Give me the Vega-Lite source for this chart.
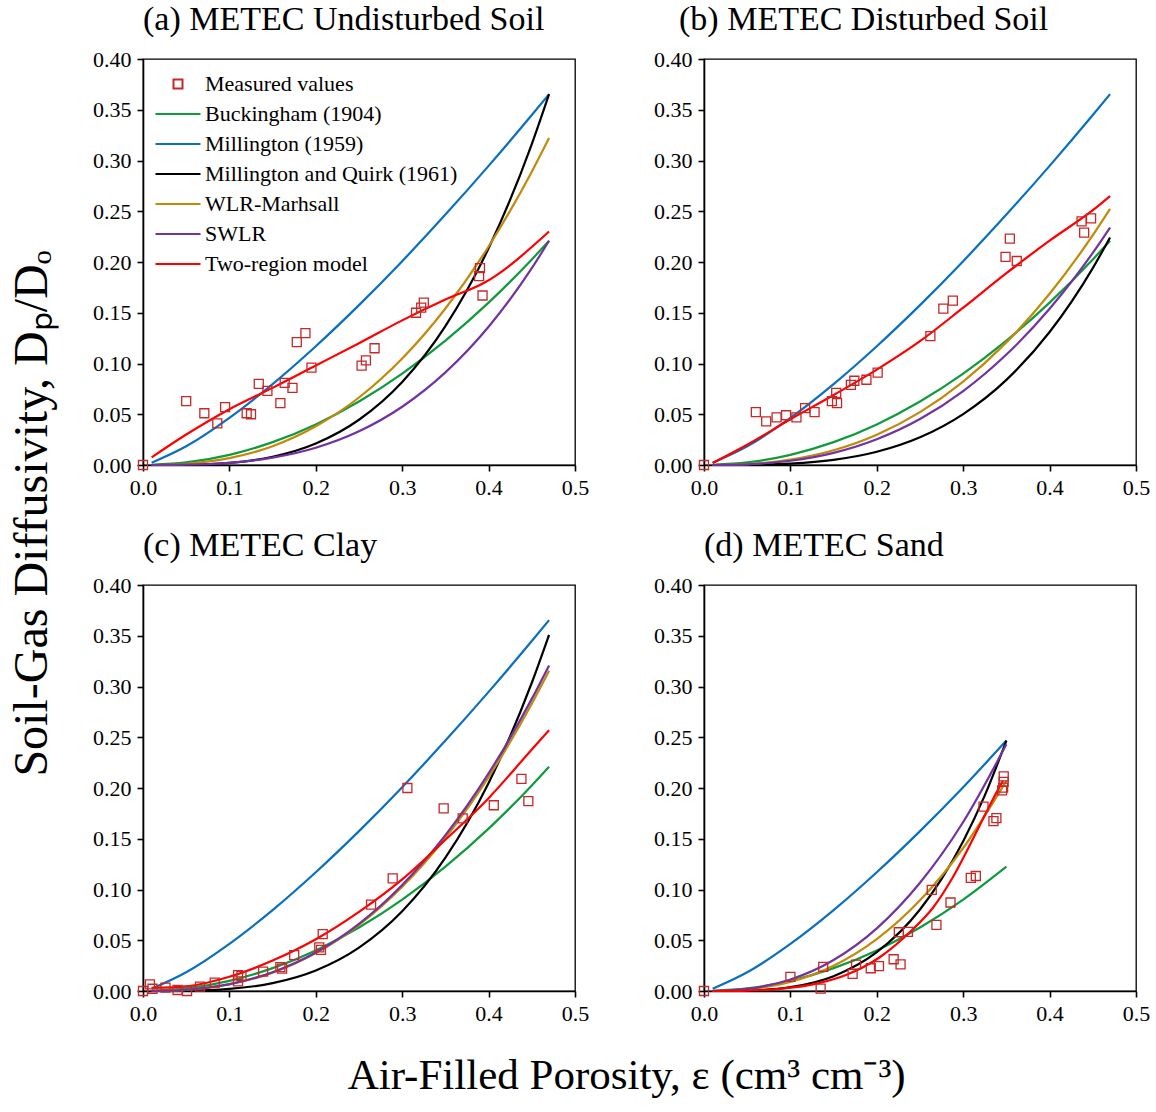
{
  "$schema": "https://vega.github.io/schema/vega-lite/v6.json",
  "background": "white",
  "padding": {"left": 8, "top": 2, "right": 5, "bottom": 5},
  "config": {
    "font": "Liberation Serif",
    "view": {"stroke": "black", "strokeWidth": 1.3},
    "axis": {
      "grid": false,
      "domainColor": "black",
      "domainWidth": 1.6,
      "tickColor": "black",
      "tickWidth": 1.6,
      "tickSize": 6,
      "labelFont": "Liberation Serif",
      "labelFontSize": 22,
      "labelColor": "black",
      "labelPadding": 6,
      "labelFlush": false,
      "labelOverlap": false
    },
    "title": {"font": "Liberation Serif", "fontWeight": "normal", "color": "black"}
  },
  "datasets": {
    "soil": [
      {"panel": "a", "series": "Buckingham (1904)", "eps": 0.01, "dp": 0.0001},
      {"panel": "a", "series": "Buckingham (1904)", "eps": 0.05, "dp": 0.0025},
      {"panel": "a", "series": "Buckingham (1904)", "eps": 0.1, "dp": 0.01},
      {"panel": "a", "series": "Buckingham (1904)", "eps": 0.15, "dp": 0.0225},
      {"panel": "a", "series": "Buckingham (1904)", "eps": 0.2, "dp": 0.04},
      {"panel": "a", "series": "Buckingham (1904)", "eps": 0.25, "dp": 0.0625},
      {"panel": "a", "series": "Buckingham (1904)", "eps": 0.3, "dp": 0.09},
      {"panel": "a", "series": "Buckingham (1904)", "eps": 0.35, "dp": 0.1225},
      {"panel": "a", "series": "Buckingham (1904)", "eps": 0.4, "dp": 0.16},
      {"panel": "a", "series": "Buckingham (1904)", "eps": 0.45, "dp": 0.2025},
      {"panel": "a", "series": "Buckingham (1904)", "eps": 0.47, "dp": 0.2209},
      {"panel": "a", "series": "Millington (1959)", "eps": 0.01, "dp": 0.0022},
      {"panel": "a", "series": "Millington (1959)", "eps": 0.05, "dp": 0.0184},
      {"panel": "a", "series": "Millington (1959)", "eps": 0.1, "dp": 0.0464},
      {"panel": "a", "series": "Millington (1959)", "eps": 0.15, "dp": 0.0797},
      {"panel": "a", "series": "Millington (1959)", "eps": 0.2, "dp": 0.117},
      {"panel": "a", "series": "Millington (1959)", "eps": 0.25, "dp": 0.1575},
      {"panel": "a", "series": "Millington (1959)", "eps": 0.3, "dp": 0.2008},
      {"panel": "a", "series": "Millington (1959)", "eps": 0.35, "dp": 0.2467},
      {"panel": "a", "series": "Millington (1959)", "eps": 0.4, "dp": 0.2947},
      {"panel": "a", "series": "Millington (1959)", "eps": 0.45, "dp": 0.3448},
      {"panel": "a", "series": "Millington (1959)", "eps": 0.47, "dp": 0.3654},
      {"panel": "a", "series": "Millington and Quirk (1961)", "eps": 0.01, "dp": 0},
      {"panel": "a", "series": "Millington and Quirk (1961)", "eps": 0.05, "dp": 0.0002},
      {"panel": "a", "series": "Millington and Quirk (1961)", "eps": 0.1, "dp": 0.0021},
      {"panel": "a", "series": "Millington and Quirk (1961)", "eps": 0.15, "dp": 0.0081},
      {"panel": "a", "series": "Millington and Quirk (1961)", "eps": 0.2, "dp": 0.0212},
      {"panel": "a", "series": "Millington and Quirk (1961)", "eps": 0.25, "dp": 0.0446},
      {"panel": "a", "series": "Millington and Quirk (1961)", "eps": 0.3, "dp": 0.0818},
      {"panel": "a", "series": "Millington and Quirk (1961)", "eps": 0.35, "dp": 0.1368},
      {"panel": "a", "series": "Millington and Quirk (1961)", "eps": 0.4, "dp": 0.2135},
      {"panel": "a", "series": "Millington and Quirk (1961)", "eps": 0.45, "dp": 0.3162},
      {"panel": "a", "series": "Millington and Quirk (1961)", "eps": 0.47, "dp": 0.3654},
      {"panel": "a", "series": "WLR-Marhsall", "eps": 0.01, "dp": 0},
      {"panel": "a", "series": "WLR-Marhsall", "eps": 0.05, "dp": 0.0012},
      {"panel": "a", "series": "WLR-Marhsall", "eps": 0.1, "dp": 0.0067},
      {"panel": "a", "series": "WLR-Marhsall", "eps": 0.15, "dp": 0.0185},
      {"panel": "a", "series": "WLR-Marhsall", "eps": 0.2, "dp": 0.0381},
      {"panel": "a", "series": "WLR-Marhsall", "eps": 0.25, "dp": 0.0665},
      {"panel": "a", "series": "WLR-Marhsall", "eps": 0.3, "dp": 0.1049},
      {"panel": "a", "series": "WLR-Marhsall", "eps": 0.35, "dp": 0.1542},
      {"panel": "a", "series": "WLR-Marhsall", "eps": 0.4, "dp": 0.2153},
      {"panel": "a", "series": "WLR-Marhsall", "eps": 0.45, "dp": 0.289},
      {"panel": "a", "series": "WLR-Marhsall", "eps": 0.47, "dp": 0.3222},
      {"panel": "a", "series": "SWLR", "eps": 0.01, "dp": 0},
      {"panel": "a", "series": "SWLR", "eps": 0.05, "dp": 0.0003},
      {"panel": "a", "series": "SWLR", "eps": 0.1, "dp": 0.0021},
      {"panel": "a", "series": "SWLR", "eps": 0.15, "dp": 0.0072},
      {"panel": "a", "series": "SWLR", "eps": 0.2, "dp": 0.017},
      {"panel": "a", "series": "SWLR", "eps": 0.25, "dp": 0.0332},
      {"panel": "a", "series": "SWLR", "eps": 0.3, "dp": 0.0574},
      {"panel": "a", "series": "SWLR", "eps": 0.35, "dp": 0.0912},
      {"panel": "a", "series": "SWLR", "eps": 0.4, "dp": 0.1362},
      {"panel": "a", "series": "SWLR", "eps": 0.45, "dp": 0.1939},
      {"panel": "a", "series": "SWLR", "eps": 0.47, "dp": 0.2209},
      {"panel": "a", "series": "Two-region model", "eps": 0.01, "dp": 0.0075},
      {"panel": "a", "series": "Two-region model", "eps": 0.05, "dp": 0.03},
      {"panel": "a", "series": "Two-region model", "eps": 0.1, "dp": 0.055},
      {"panel": "a", "series": "Two-region model", "eps": 0.15, "dp": 0.076},
      {"panel": "a", "series": "Two-region model", "eps": 0.2, "dp": 0.098},
      {"panel": "a", "series": "Two-region model", "eps": 0.25, "dp": 0.12},
      {"panel": "a", "series": "Two-region model", "eps": 0.3, "dp": 0.1425},
      {"panel": "a", "series": "Two-region model", "eps": 0.35, "dp": 0.163},
      {"panel": "a", "series": "Two-region model", "eps": 0.396, "dp": 0.18},
      {"panel": "a", "series": "Two-region model", "eps": 0.47, "dp": 0.23},
      {"panel": "a", "series": "Measured values", "eps": 0, "dp": 0},
      {"panel": "a", "series": "Measured values", "eps": 0.05, "dp": 0.063},
      {"panel": "a", "series": "Measured values", "eps": 0.071, "dp": 0.051},
      {"panel": "a", "series": "Measured values", "eps": 0.086, "dp": 0.041},
      {"panel": "a", "series": "Measured values", "eps": 0.095, "dp": 0.057},
      {"panel": "a", "series": "Measured values", "eps": 0.12, "dp": 0.051},
      {"panel": "a", "series": "Measured values", "eps": 0.125, "dp": 0.05},
      {"panel": "a", "series": "Measured values", "eps": 0.134, "dp": 0.08},
      {"panel": "a", "series": "Measured values", "eps": 0.144, "dp": 0.073},
      {"panel": "a", "series": "Measured values", "eps": 0.159, "dp": 0.061},
      {"panel": "a", "series": "Measured values", "eps": 0.164, "dp": 0.081},
      {"panel": "a", "series": "Measured values", "eps": 0.173, "dp": 0.076},
      {"panel": "a", "series": "Measured values", "eps": 0.178, "dp": 0.121},
      {"panel": "a", "series": "Measured values", "eps": 0.188, "dp": 0.13},
      {"panel": "a", "series": "Measured values", "eps": 0.195, "dp": 0.096},
      {"panel": "a", "series": "Measured values", "eps": 0.253, "dp": 0.098},
      {"panel": "a", "series": "Measured values", "eps": 0.258, "dp": 0.103},
      {"panel": "a", "series": "Measured values", "eps": 0.268, "dp": 0.115},
      {"panel": "a", "series": "Measured values", "eps": 0.316, "dp": 0.15},
      {"panel": "a", "series": "Measured values", "eps": 0.322, "dp": 0.155},
      {"panel": "a", "series": "Measured values", "eps": 0.325, "dp": 0.16},
      {"panel": "a", "series": "Measured values", "eps": 0.389, "dp": 0.186},
      {"panel": "a", "series": "Measured values", "eps": 0.39, "dp": 0.194},
      {"panel": "a", "series": "Measured values", "eps": 0.393, "dp": 0.167},

      {"panel": "b", "series": "Buckingham (1904)", "eps": 0.01, "dp": 0.0001},
      {"panel": "b", "series": "Buckingham (1904)", "eps": 0.05, "dp": 0.0025},
      {"panel": "b", "series": "Buckingham (1904)", "eps": 0.1, "dp": 0.01},
      {"panel": "b", "series": "Buckingham (1904)", "eps": 0.15, "dp": 0.0225},
      {"panel": "b", "series": "Buckingham (1904)", "eps": 0.2, "dp": 0.04},
      {"panel": "b", "series": "Buckingham (1904)", "eps": 0.25, "dp": 0.0625},
      {"panel": "b", "series": "Buckingham (1904)", "eps": 0.3, "dp": 0.09},
      {"panel": "b", "series": "Buckingham (1904)", "eps": 0.35, "dp": 0.1225},
      {"panel": "b", "series": "Buckingham (1904)", "eps": 0.4, "dp": 0.16},
      {"panel": "b", "series": "Buckingham (1904)", "eps": 0.45, "dp": 0.2025},
      {"panel": "b", "series": "Buckingham (1904)", "eps": 0.47, "dp": 0.2209},
      {"panel": "b", "series": "Millington (1959)", "eps": 0.01, "dp": 0.0022},
      {"panel": "b", "series": "Millington (1959)", "eps": 0.05, "dp": 0.0184},
      {"panel": "b", "series": "Millington (1959)", "eps": 0.1, "dp": 0.0464},
      {"panel": "b", "series": "Millington (1959)", "eps": 0.15, "dp": 0.0797},
      {"panel": "b", "series": "Millington (1959)", "eps": 0.2, "dp": 0.117},
      {"panel": "b", "series": "Millington (1959)", "eps": 0.25, "dp": 0.1575},
      {"panel": "b", "series": "Millington (1959)", "eps": 0.3, "dp": 0.2008},
      {"panel": "b", "series": "Millington (1959)", "eps": 0.35, "dp": 0.2467},
      {"panel": "b", "series": "Millington (1959)", "eps": 0.4, "dp": 0.2947},
      {"panel": "b", "series": "Millington (1959)", "eps": 0.45, "dp": 0.3448},
      {"panel": "b", "series": "Millington (1959)", "eps": 0.47, "dp": 0.3654},
      {"panel": "b", "series": "Millington and Quirk (1961)", "eps": 0.01, "dp": 0},
      {"panel": "b", "series": "Millington and Quirk (1961)", "eps": 0.05, "dp": 0.0001},
      {"panel": "b", "series": "Millington and Quirk (1961)", "eps": 0.1, "dp": 0.0013},
      {"panel": "b", "series": "Millington and Quirk (1961)", "eps": 0.15, "dp": 0.005},
      {"panel": "b", "series": "Millington and Quirk (1961)", "eps": 0.2, "dp": 0.013},
      {"panel": "b", "series": "Millington and Quirk (1961)", "eps": 0.25, "dp": 0.0273},
      {"panel": "b", "series": "Millington and Quirk (1961)", "eps": 0.3, "dp": 0.0502},
      {"panel": "b", "series": "Millington and Quirk (1961)", "eps": 0.35, "dp": 0.0839},
      {"panel": "b", "series": "Millington and Quirk (1961)", "eps": 0.4, "dp": 0.131},
      {"panel": "b", "series": "Millington and Quirk (1961)", "eps": 0.45, "dp": 0.194},
      {"panel": "b", "series": "Millington and Quirk (1961)", "eps": 0.47, "dp": 0.2242},
      {"panel": "b", "series": "WLR-Marhsall", "eps": 0.01, "dp": 0},
      {"panel": "b", "series": "WLR-Marhsall", "eps": 0.05, "dp": 0.0009},
      {"panel": "b", "series": "WLR-Marhsall", "eps": 0.1, "dp": 0.0053},
      {"panel": "b", "series": "WLR-Marhsall", "eps": 0.15, "dp": 0.0145},
      {"panel": "b", "series": "WLR-Marhsall", "eps": 0.2, "dp": 0.0298},
      {"panel": "b", "series": "WLR-Marhsall", "eps": 0.25, "dp": 0.0521},
      {"panel": "b", "series": "WLR-Marhsall", "eps": 0.3, "dp": 0.0822},
      {"panel": "b", "series": "WLR-Marhsall", "eps": 0.35, "dp": 0.1208},
      {"panel": "b", "series": "WLR-Marhsall", "eps": 0.4, "dp": 0.1687},
      {"panel": "b", "series": "WLR-Marhsall", "eps": 0.45, "dp": 0.2264},
      {"panel": "b", "series": "WLR-Marhsall", "eps": 0.47, "dp": 0.2523},
      {"panel": "b", "series": "SWLR", "eps": 0.01, "dp": 0},
      {"panel": "b", "series": "SWLR", "eps": 0.05, "dp": 0.0007},
      {"panel": "b", "series": "SWLR", "eps": 0.1, "dp": 0.0042},
      {"panel": "b", "series": "SWLR", "eps": 0.15, "dp": 0.012},
      {"panel": "b", "series": "SWLR", "eps": 0.2, "dp": 0.0254},
      {"panel": "b", "series": "SWLR", "eps": 0.25, "dp": 0.0453},
      {"panel": "b", "series": "SWLR", "eps": 0.3, "dp": 0.0728},
      {"panel": "b", "series": "SWLR", "eps": 0.35, "dp": 0.1088},
      {"panel": "b", "series": "SWLR", "eps": 0.4, "dp": 0.1539},
      {"panel": "b", "series": "SWLR", "eps": 0.45, "dp": 0.209},
      {"panel": "b", "series": "SWLR", "eps": 0.47, "dp": 0.234},
      {"panel": "b", "series": "Two-region model", "eps": 0.01, "dp": 0.002},
      {"panel": "b", "series": "Two-region model", "eps": 0.05, "dp": 0.02},
      {"panel": "b", "series": "Two-region model", "eps": 0.1, "dp": 0.045},
      {"panel": "b", "series": "Two-region model", "eps": 0.15, "dp": 0.069},
      {"panel": "b", "series": "Two-region model", "eps": 0.2, "dp": 0.094},
      {"panel": "b", "series": "Two-region model", "eps": 0.25, "dp": 0.122},
      {"panel": "b", "series": "Two-region model", "eps": 0.3, "dp": 0.155},
      {"panel": "b", "series": "Two-region model", "eps": 0.35, "dp": 0.189},
      {"panel": "b", "series": "Two-region model", "eps": 0.4, "dp": 0.221},
      {"panel": "b", "series": "Two-region model", "eps": 0.45, "dp": 0.251},
      {"panel": "b", "series": "Two-region model", "eps": 0.47, "dp": 0.265},
      {"panel": "b", "series": "Measured values", "eps": 0, "dp": 0},
      {"panel": "b", "series": "Measured values", "eps": 0.06, "dp": 0.052},
      {"panel": "b", "series": "Measured values", "eps": 0.072, "dp": 0.043},
      {"panel": "b", "series": "Measured values", "eps": 0.084, "dp": 0.047},
      {"panel": "b", "series": "Measured values", "eps": 0.095, "dp": 0.049},
      {"panel": "b", "series": "Measured values", "eps": 0.107, "dp": 0.047},
      {"panel": "b", "series": "Measured values", "eps": 0.117, "dp": 0.056},
      {"panel": "b", "series": "Measured values", "eps": 0.128, "dp": 0.052},
      {"panel": "b", "series": "Measured values", "eps": 0.148, "dp": 0.063},
      {"panel": "b", "series": "Measured values", "eps": 0.153, "dp": 0.071},
      {"panel": "b", "series": "Measured values", "eps": 0.154, "dp": 0.061},
      {"panel": "b", "series": "Measured values", "eps": 0.17, "dp": 0.079},
      {"panel": "b", "series": "Measured values", "eps": 0.174, "dp": 0.083},
      {"panel": "b", "series": "Measured values", "eps": 0.188, "dp": 0.084},
      {"panel": "b", "series": "Measured values", "eps": 0.201, "dp": 0.091},
      {"panel": "b", "series": "Measured values", "eps": 0.262, "dp": 0.127},
      {"panel": "b", "series": "Measured values", "eps": 0.277, "dp": 0.154},
      {"panel": "b", "series": "Measured values", "eps": 0.288, "dp": 0.162},
      {"panel": "b", "series": "Measured values", "eps": 0.349, "dp": 0.205},
      {"panel": "b", "series": "Measured values", "eps": 0.354, "dp": 0.223},
      {"panel": "b", "series": "Measured values", "eps": 0.362, "dp": 0.201},
      {"panel": "b", "series": "Measured values", "eps": 0.437, "dp": 0.24},
      {"panel": "b", "series": "Measured values", "eps": 0.44, "dp": 0.229},
      {"panel": "b", "series": "Measured values", "eps": 0.448, "dp": 0.243},

      {"panel": "c", "series": "Buckingham (1904)", "eps": 0.01, "dp": 0.0001},
      {"panel": "c", "series": "Buckingham (1904)", "eps": 0.05, "dp": 0.0025},
      {"panel": "c", "series": "Buckingham (1904)", "eps": 0.1, "dp": 0.01},
      {"panel": "c", "series": "Buckingham (1904)", "eps": 0.15, "dp": 0.0225},
      {"panel": "c", "series": "Buckingham (1904)", "eps": 0.2, "dp": 0.04},
      {"panel": "c", "series": "Buckingham (1904)", "eps": 0.25, "dp": 0.0625},
      {"panel": "c", "series": "Buckingham (1904)", "eps": 0.3, "dp": 0.09},
      {"panel": "c", "series": "Buckingham (1904)", "eps": 0.35, "dp": 0.1225},
      {"panel": "c", "series": "Buckingham (1904)", "eps": 0.4, "dp": 0.16},
      {"panel": "c", "series": "Buckingham (1904)", "eps": 0.45, "dp": 0.2025},
      {"panel": "c", "series": "Buckingham (1904)", "eps": 0.47, "dp": 0.2209},
      {"panel": "c", "series": "Millington (1959)", "eps": 0.01, "dp": 0.0022},
      {"panel": "c", "series": "Millington (1959)", "eps": 0.05, "dp": 0.0184},
      {"panel": "c", "series": "Millington (1959)", "eps": 0.1, "dp": 0.0464},
      {"panel": "c", "series": "Millington (1959)", "eps": 0.15, "dp": 0.0797},
      {"panel": "c", "series": "Millington (1959)", "eps": 0.2, "dp": 0.117},
      {"panel": "c", "series": "Millington (1959)", "eps": 0.25, "dp": 0.1575},
      {"panel": "c", "series": "Millington (1959)", "eps": 0.3, "dp": 0.2008},
      {"panel": "c", "series": "Millington (1959)", "eps": 0.35, "dp": 0.2467},
      {"panel": "c", "series": "Millington (1959)", "eps": 0.4, "dp": 0.2947},
      {"panel": "c", "series": "Millington (1959)", "eps": 0.45, "dp": 0.3448},
      {"panel": "c", "series": "Millington (1959)", "eps": 0.47, "dp": 0.3654},
      {"panel": "c", "series": "Millington and Quirk (1961)", "eps": 0.01, "dp": 0},
      {"panel": "c", "series": "Millington and Quirk (1961)", "eps": 0.05, "dp": 0.0002},
      {"panel": "c", "series": "Millington and Quirk (1961)", "eps": 0.1, "dp": 0.002},
      {"panel": "c", "series": "Millington and Quirk (1961)", "eps": 0.15, "dp": 0.0078},
      {"panel": "c", "series": "Millington and Quirk (1961)", "eps": 0.2, "dp": 0.0203},
      {"panel": "c", "series": "Millington and Quirk (1961)", "eps": 0.25, "dp": 0.0428},
      {"panel": "c", "series": "Millington and Quirk (1961)", "eps": 0.3, "dp": 0.0786},
      {"panel": "c", "series": "Millington and Quirk (1961)", "eps": 0.35, "dp": 0.1314},
      {"panel": "c", "series": "Millington and Quirk (1961)", "eps": 0.4, "dp": 0.205},
      {"panel": "c", "series": "Millington and Quirk (1961)", "eps": 0.45, "dp": 0.3037},
      {"panel": "c", "series": "Millington and Quirk (1961)", "eps": 0.47, "dp": 0.3509},
      {"panel": "c", "series": "WLR-Marhsall", "eps": 0.01, "dp": 0},
      {"panel": "c", "series": "WLR-Marhsall", "eps": 0.05, "dp": 0.0012},
      {"panel": "c", "series": "WLR-Marhsall", "eps": 0.1, "dp": 0.0066},
      {"panel": "c", "series": "WLR-Marhsall", "eps": 0.15, "dp": 0.0181},
      {"panel": "c", "series": "WLR-Marhsall", "eps": 0.2, "dp": 0.0373},
      {"panel": "c", "series": "WLR-Marhsall", "eps": 0.25, "dp": 0.0651},
      {"panel": "c", "series": "WLR-Marhsall", "eps": 0.3, "dp": 0.1027},
      {"panel": "c", "series": "WLR-Marhsall", "eps": 0.35, "dp": 0.151},
      {"panel": "c", "series": "WLR-Marhsall", "eps": 0.4, "dp": 0.2108},
      {"panel": "c", "series": "WLR-Marhsall", "eps": 0.45, "dp": 0.283},
      {"panel": "c", "series": "WLR-Marhsall", "eps": 0.47, "dp": 0.3154},
      {"panel": "c", "series": "SWLR", "eps": 0.01, "dp": 0},
      {"panel": "c", "series": "SWLR", "eps": 0.05, "dp": 0.0012},
      {"panel": "c", "series": "SWLR", "eps": 0.1, "dp": 0.0067},
      {"panel": "c", "series": "SWLR", "eps": 0.15, "dp": 0.0185},
      {"panel": "c", "series": "SWLR", "eps": 0.2, "dp": 0.0379},
      {"panel": "c", "series": "SWLR", "eps": 0.25, "dp": 0.0662},
      {"panel": "c", "series": "SWLR", "eps": 0.3, "dp": 0.1045},
      {"panel": "c", "series": "SWLR", "eps": 0.35, "dp": 0.1535},
      {"panel": "c", "series": "SWLR", "eps": 0.4, "dp": 0.2144},
      {"panel": "c", "series": "SWLR", "eps": 0.45, "dp": 0.2878},
      {"panel": "c", "series": "SWLR", "eps": 0.47, "dp": 0.3208},
      {"panel": "c", "series": "Two-region model", "eps": 0.01, "dp": 0.003},
      {"panel": "c", "series": "Two-region model", "eps": 0.05, "dp": 0.0045},
      {"panel": "c", "series": "Two-region model", "eps": 0.1, "dp": 0.014},
      {"panel": "c", "series": "Two-region model", "eps": 0.15, "dp": 0.03},
      {"panel": "c", "series": "Two-region model", "eps": 0.2, "dp": 0.051},
      {"panel": "c", "series": "Two-region model", "eps": 0.25, "dp": 0.078},
      {"panel": "c", "series": "Two-region model", "eps": 0.3, "dp": 0.11},
      {"panel": "c", "series": "Two-region model", "eps": 0.35, "dp": 0.149},
      {"panel": "c", "series": "Two-region model", "eps": 0.4, "dp": 0.19},
      {"panel": "c", "series": "Two-region model", "eps": 0.45, "dp": 0.238},
      {"panel": "c", "series": "Two-region model", "eps": 0.47, "dp": 0.257},
      {"panel": "c", "series": "Measured values", "eps": 0, "dp": 0},
      {"panel": "c", "series": "Measured values", "eps": 0.008, "dp": 0.0066},
      {"panel": "c", "series": "Measured values", "eps": 0.011, "dp": 0.0022},
      {"panel": "c", "series": "Measured values", "eps": 0.026, "dp": 0.0033},
      {"panel": "c", "series": "Measured values", "eps": 0.04, "dp": 0.001},
      {"panel": "c", "series": "Measured values", "eps": 0.051, "dp": 0},
      {"panel": "c", "series": "Measured values", "eps": 0.066, "dp": 0.0043},
      {"panel": "c", "series": "Measured values", "eps": 0.083, "dp": 0.0082},
      {"panel": "c", "series": "Measured values", "eps": 0.11, "dp": 0.0157},
      {"panel": "c", "series": "Measured values", "eps": 0.11, "dp": 0.0095},
      {"panel": "c", "series": "Measured values", "eps": 0.114, "dp": 0.015},
      {"panel": "c", "series": "Measured values", "eps": 0.139, "dp": 0.019},
      {"panel": "c", "series": "Measured values", "eps": 0.159, "dp": 0.0235},
      {"panel": "c", "series": "Measured values", "eps": 0.161, "dp": 0.022},
      {"panel": "c", "series": "Measured values", "eps": 0.175, "dp": 0.0353},
      {"panel": "c", "series": "Measured values", "eps": 0.204, "dp": 0.043},
      {"panel": "c", "series": "Measured values", "eps": 0.206, "dp": 0.0405},
      {"panel": "c", "series": "Measured values", "eps": 0.208, "dp": 0.056},
      {"panel": "c", "series": "Measured values", "eps": 0.264, "dp": 0.085},
      {"panel": "c", "series": "Measured values", "eps": 0.289, "dp": 0.111},
      {"panel": "c", "series": "Measured values", "eps": 0.306, "dp": 0.2},
      {"panel": "c", "series": "Measured values", "eps": 0.348, "dp": 0.18},
      {"panel": "c", "series": "Measured values", "eps": 0.37, "dp": 0.17},
      {"panel": "c", "series": "Measured values", "eps": 0.406, "dp": 0.183},
      {"panel": "c", "series": "Measured values", "eps": 0.438, "dp": 0.209},
      {"panel": "c", "series": "Measured values", "eps": 0.446, "dp": 0.187},

      {"panel": "d", "series": "Buckingham (1904)", "eps": 0.01, "dp": 0.0001},
      {"panel": "d", "series": "Buckingham (1904)", "eps": 0.05, "dp": 0.0025},
      {"panel": "d", "series": "Buckingham (1904)", "eps": 0.1, "dp": 0.01},
      {"panel": "d", "series": "Buckingham (1904)", "eps": 0.15, "dp": 0.0225},
      {"panel": "d", "series": "Buckingham (1904)", "eps": 0.2, "dp": 0.04},
      {"panel": "d", "series": "Buckingham (1904)", "eps": 0.25, "dp": 0.0625},
      {"panel": "d", "series": "Buckingham (1904)", "eps": 0.3, "dp": 0.09},
      {"panel": "d", "series": "Buckingham (1904)", "eps": 0.35, "dp": 0.1225},
      {"panel": "d", "series": "Millington (1959)", "eps": 0.01, "dp": 0.0022},
      {"panel": "d", "series": "Millington (1959)", "eps": 0.05, "dp": 0.0184},
      {"panel": "d", "series": "Millington (1959)", "eps": 0.1, "dp": 0.0464},
      {"panel": "d", "series": "Millington (1959)", "eps": 0.15, "dp": 0.0797},
      {"panel": "d", "series": "Millington (1959)", "eps": 0.2, "dp": 0.117},
      {"panel": "d", "series": "Millington (1959)", "eps": 0.25, "dp": 0.1575},
      {"panel": "d", "series": "Millington (1959)", "eps": 0.3, "dp": 0.2008},
      {"panel": "d", "series": "Millington (1959)", "eps": 0.35, "dp": 0.2467},
      {"panel": "d", "series": "Millington and Quirk (1961)", "eps": 0.01, "dp": 0},
      {"panel": "d", "series": "Millington and Quirk (1961)", "eps": 0.05, "dp": 0.0004},
      {"panel": "d", "series": "Millington and Quirk (1961)", "eps": 0.1, "dp": 0.0038},
      {"panel": "d", "series": "Millington and Quirk (1961)", "eps": 0.15, "dp": 0.0146},
      {"panel": "d", "series": "Millington and Quirk (1961)", "eps": 0.2, "dp": 0.0382},
      {"panel": "d", "series": "Millington and Quirk (1961)", "eps": 0.25, "dp": 0.0803},
      {"panel": "d", "series": "Millington and Quirk (1961)", "eps": 0.275, "dp": 0.1104},
      {"panel": "d", "series": "Millington and Quirk (1961)", "eps": 0.3, "dp": 0.1476},
      {"panel": "d", "series": "Millington and Quirk (1961)", "eps": 0.325, "dp": 0.1927},
      {"panel": "d", "series": "Millington and Quirk (1961)", "eps": 0.35, "dp": 0.2467},
      {"panel": "d", "series": "WLR-Marhsall", "eps": 0.01, "dp": 0},
      {"panel": "d", "series": "WLR-Marhsall", "eps": 0.05, "dp": 0.0016},
      {"panel": "d", "series": "WLR-Marhsall", "eps": 0.1, "dp": 0.009},
      {"panel": "d", "series": "WLR-Marhsall", "eps": 0.15, "dp": 0.0249},
      {"panel": "d", "series": "WLR-Marhsall", "eps": 0.2, "dp": 0.0511},
      {"panel": "d", "series": "WLR-Marhsall", "eps": 0.25, "dp": 0.0893},
      {"panel": "d", "series": "WLR-Marhsall", "eps": 0.3, "dp": 0.1409},
      {"panel": "d", "series": "WLR-Marhsall", "eps": 0.35, "dp": 0.2071},
      {"panel": "d", "series": "SWLR", "eps": 0.01, "dp": 0},
      {"panel": "d", "series": "SWLR", "eps": 0.05, "dp": 0.0021},
      {"panel": "d", "series": "SWLR", "eps": 0.1, "dp": 0.0113},
      {"panel": "d", "series": "SWLR", "eps": 0.15, "dp": 0.0305},
      {"panel": "d", "series": "SWLR", "eps": 0.2, "dp": 0.0617},
      {"panel": "d", "series": "SWLR", "eps": 0.25, "dp": 0.1066},
      {"panel": "d", "series": "SWLR", "eps": 0.3, "dp": 0.1665},
      {"panel": "d", "series": "SWLR", "eps": 0.35, "dp": 0.243},
      {"panel": "d", "series": "Two-region model", "eps": 0.01, "dp": 0},
      {"panel": "d", "series": "Two-region model", "eps": 0.05, "dp": 0.0004},
      {"panel": "d", "series": "Two-region model", "eps": 0.087, "dp": 0.002},
      {"panel": "d", "series": "Two-region model", "eps": 0.134, "dp": 0.008},
      {"panel": "d", "series": "Two-region model", "eps": 0.165, "dp": 0.016},
      {"panel": "d", "series": "Two-region model", "eps": 0.203, "dp": 0.033},
      {"panel": "d", "series": "Two-region model", "eps": 0.242, "dp": 0.061},
      {"panel": "d", "series": "Two-region model", "eps": 0.265, "dp": 0.082},
      {"panel": "d", "series": "Two-region model", "eps": 0.288, "dp": 0.112},
      {"panel": "d", "series": "Two-region model", "eps": 0.312, "dp": 0.151},
      {"panel": "d", "series": "Two-region model", "eps": 0.335, "dp": 0.19},
      {"panel": "d", "series": "Two-region model", "eps": 0.346, "dp": 0.207},
      {"panel": "d", "series": "Measured values", "eps": 0, "dp": 0},
      {"panel": "d", "series": "Measured values", "eps": 0.1, "dp": 0.014},
      {"panel": "d", "series": "Measured values", "eps": 0.135, "dp": 0.0023},
      {"panel": "d", "series": "Measured values", "eps": 0.138, "dp": 0.0237},
      {"panel": "d", "series": "Measured values", "eps": 0.172, "dp": 0.0168},
      {"panel": "d", "series": "Measured values", "eps": 0.176, "dp": 0.026},
      {"panel": "d", "series": "Measured values", "eps": 0.193, "dp": 0.0224},
      {"panel": "d", "series": "Measured values", "eps": 0.2025, "dp": 0.0245},
      {"panel": "d", "series": "Measured values", "eps": 0.2195, "dp": 0.0313},
      {"panel": "d", "series": "Measured values", "eps": 0.2255, "dp": 0.0579},
      {"panel": "d", "series": "Measured values", "eps": 0.2275, "dp": 0.0263},
      {"panel": "d", "series": "Measured values", "eps": 0.236, "dp": 0.0582},
      {"panel": "d", "series": "Measured values", "eps": 0.2636, "dp": 0.0997},
      {"panel": "d", "series": "Measured values", "eps": 0.269, "dp": 0.0652},
      {"panel": "d", "series": "Measured values", "eps": 0.2853, "dp": 0.0872},
      {"panel": "d", "series": "Measured values", "eps": 0.3088, "dp": 0.1115},
      {"panel": "d", "series": "Measured values", "eps": 0.3146, "dp": 0.1133},
      {"panel": "d", "series": "Measured values", "eps": 0.3235, "dp": 0.1817},
      {"panel": "d", "series": "Measured values", "eps": 0.335, "dp": 0.1674},
      {"panel": "d", "series": "Measured values", "eps": 0.3384, "dp": 0.1704},
      {"panel": "d", "series": "Measured values", "eps": 0.345, "dp": 0.1976},
      {"panel": "d", "series": "Measured values", "eps": 0.3462, "dp": 0.2003},
      {"panel": "d", "series": "Measured values", "eps": 0.3468, "dp": 0.206},
      {"panel": "d", "series": "Measured values", "eps": 0.3469, "dp": 0.2115}
    ]
  },
  "title": {"text": "Air-Filled Porosity, ε (cm³ cm⁻³)", "orient": "bottom", "anchor": "middle", "fontSize": 43, "offset": 30, "dx": 47},
  "resolve": {"scale": {"color": "independent", "shape": "independent"}},
  "vconcat": [
    {
      "title": {"text": "Soil-Gas Diffusivity, Dₚ/Dₒ", "orient": "left", "anchor": "middle", "fontSize": 48, "offset": 35},
      "columns": 2,
      "spacing": {"row": 120, "column": 129},
      "bounds": "flush",
      "resolve": {"scale": {"color": "independent", "shape": "independent"}},
      "concat": [
        {
          "width": 432,
          "height": 406,
          "title": {"text": "(a) METEC Undisturbed Soil", "anchor": "start", "frame": "group", "fontSize": 34, "offset": 11},
          "data": {"name": "soil"},
          "transform": [{"filter": "datum.panel == 'a'"}],
          "encoding": {
            "x": {"field": "eps", "type": "quantitative", "title": null, "scale": {"domain": [0, 0.5]}, "axis": {"values": [0, 0.1, 0.2, 0.3, 0.4, 0.5], "format": ".1f"}},
            "y": {"field": "dp", "type": "quantitative", "title": null, "scale": {"domain": [0, 0.4]}, "axis": {"values": [0, 0.05, 0.1, 0.15, 0.2, 0.25, 0.3, 0.35, 0.4], "format": ".2f"}},
            "color": {
              "field": "series",
              "type": "nominal",
              "scale": {
                "domain": ["Measured values", "Buckingham (1904)", "Millington (1959)", "Millington and Quirk (1961)", "WLR-Marhsall", "SWLR", "Two-region model"],
                "range": ["#C62828", "#0F9A3C", "#0A6FBF", "#000000", "#C18A0A", "#7232A0", "#FF0000"]
              },
              "legend": {"title": null, "orient": "none", "legendX": 24, "legendY": 14, "padding": 0, "labelFontSize": 22, "labelColor": "black", "labelOffset": 16, "labelLimit": 400, "rowPadding": 8, "symbolSize": 81, "symbolStrokeWidth": 2}
            }
          },
          "layer": [
            {
              "transform": [{"filter": "datum.series != 'Measured values'"}],
              "mark": {"type": "line", "strokeWidth": 2.2, "interpolate": "monotone"}
            },
            {
              "transform": [{"filter": "datum.series == 'Measured values'"}],
              "mark": {"type": "point", "filled": false, "size": 81, "strokeWidth": 1.3, "opacity": 1},
              "encoding": {
                "shape": {
                  "field": "series",
                  "type": "nominal",
                  "scale": {
                    "domain": ["Measured values", "Buckingham (1904)", "Millington (1959)", "Millington and Quirk (1961)", "WLR-Marhsall", "SWLR", "Two-region model"],
                    "range": ["square", "M-5,0H5", "M-5,0H5", "M-5,0H5", "M-5,0H5", "M-5,0H5", "M-5,0H5"]
                  },
                  "legend": {"title": null, "orient": "none", "legendX": 24, "legendY": 14, "padding": 0, "labelFontSize": 22, "labelColor": "black", "labelOffset": 16, "labelLimit": 400, "rowPadding": 8, "symbolSize": 81, "symbolStrokeWidth": 2}
                }
              }
            }
          ]
        },
        {
          "width": 432,
          "height": 406,
          "title": {"text": "(b) METEC Disturbed Soil", "anchor": "start", "frame": "group", "fontSize": 34, "offset": 11, "dx": -25},
          "data": {"name": "soil"},
          "transform": [{"filter": "datum.panel == 'b'"}],
          "encoding": {
            "x": {"field": "eps", "type": "quantitative", "title": null, "scale": {"domain": [0, 0.5]}, "axis": {"values": [0, 0.1, 0.2, 0.3, 0.4, 0.5], "format": ".1f"}},
            "y": {"field": "dp", "type": "quantitative", "title": null, "scale": {"domain": [0, 0.4]}, "axis": {"values": [0, 0.05, 0.1, 0.15, 0.2, 0.25, 0.3, 0.35, 0.4], "format": ".2f"}},
            "color": {
              "field": "series",
              "type": "nominal",
              "scale": {
                "domain": ["Measured values", "Buckingham (1904)", "Millington (1959)", "Millington and Quirk (1961)", "WLR-Marhsall", "SWLR", "Two-region model"],
                "range": ["#C62828", "#0F9A3C", "#0A6FBF", "#000000", "#C18A0A", "#7232A0", "#FF0000"]
              },
              "legend": null
            }
          },
          "layer": [
            {
              "transform": [{"filter": "datum.series != 'Measured values'"}],
              "mark": {"type": "line", "strokeWidth": 2.2, "interpolate": "monotone"}
            },
            {
              "transform": [{"filter": "datum.series == 'Measured values'"}],
              "mark": {"type": "point", "shape": "square", "filled": false, "size": 81, "strokeWidth": 1.3, "opacity": 1}
            }
          ]
        },
        {
          "width": 432,
          "height": 406,
          "title": {"text": "(c) METEC Clay", "anchor": "start", "frame": "group", "fontSize": 34, "offset": 11},
          "data": {"name": "soil"},
          "transform": [{"filter": "datum.panel == 'c'"}],
          "encoding": {
            "x": {"field": "eps", "type": "quantitative", "title": null, "scale": {"domain": [0, 0.5]}, "axis": {"values": [0, 0.1, 0.2, 0.3, 0.4, 0.5], "format": ".1f"}},
            "y": {"field": "dp", "type": "quantitative", "title": null, "scale": {"domain": [0, 0.4]}, "axis": {"values": [0, 0.05, 0.1, 0.15, 0.2, 0.25, 0.3, 0.35, 0.4], "format": ".2f"}},
            "color": {
              "field": "series",
              "type": "nominal",
              "scale": {
                "domain": ["Measured values", "Buckingham (1904)", "Millington (1959)", "Millington and Quirk (1961)", "WLR-Marhsall", "SWLR", "Two-region model"],
                "range": ["#C62828", "#0F9A3C", "#0A6FBF", "#000000", "#C18A0A", "#7232A0", "#FF0000"]
              },
              "legend": null
            }
          },
          "layer": [
            {
              "transform": [{"filter": "datum.series != 'Measured values'"}],
              "mark": {"type": "line", "strokeWidth": 2.2, "interpolate": "monotone"}
            },
            {
              "transform": [{"filter": "datum.series == 'Measured values'"}],
              "mark": {"type": "point", "shape": "square", "filled": false, "size": 81, "strokeWidth": 1.3, "opacity": 1}
            }
          ]
        },
        {
          "width": 432,
          "height": 406,
          "title": {"text": "(d) METEC Sand", "anchor": "start", "frame": "group", "fontSize": 34, "offset": 11},
          "data": {"name": "soil"},
          "transform": [{"filter": "datum.panel == 'd'"}],
          "encoding": {
            "x": {"field": "eps", "type": "quantitative", "title": null, "scale": {"domain": [0, 0.5]}, "axis": {"values": [0, 0.1, 0.2, 0.3, 0.4, 0.5], "format": ".1f"}},
            "y": {"field": "dp", "type": "quantitative", "title": null, "scale": {"domain": [0, 0.4]}, "axis": {"values": [0, 0.05, 0.1, 0.15, 0.2, 0.25, 0.3, 0.35, 0.4], "format": ".2f"}},
            "color": {
              "field": "series",
              "type": "nominal",
              "scale": {
                "domain": ["Measured values", "Buckingham (1904)", "Millington (1959)", "Millington and Quirk (1961)", "WLR-Marhsall", "SWLR", "Two-region model"],
                "range": ["#C62828", "#0F9A3C", "#0A6FBF", "#000000", "#C18A0A", "#7232A0", "#FF0000"]
              },
              "legend": null
            }
          },
          "layer": [
            {
              "transform": [{"filter": "datum.series != 'Measured values'"}],
              "mark": {"type": "line", "strokeWidth": 2.2, "interpolate": "monotone"}
            },
            {
              "transform": [{"filter": "datum.series == 'Measured values'"}],
              "mark": {"type": "point", "shape": "square", "filled": false, "size": 81, "strokeWidth": 1.3, "opacity": 1}
            }
          ]
        }
      ]
    }
  ]
}
